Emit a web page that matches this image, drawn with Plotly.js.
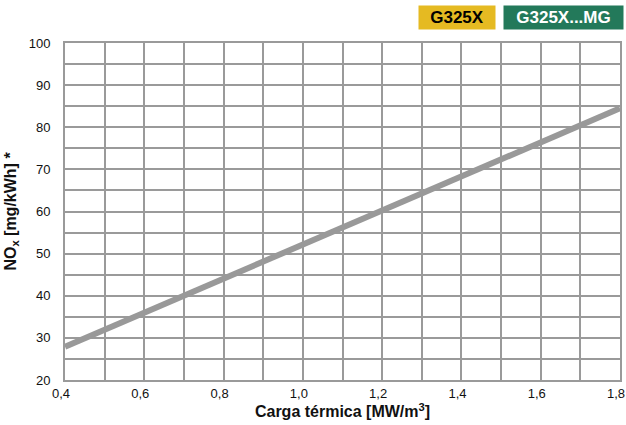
<!DOCTYPE html>
<html><head><meta charset="utf-8">
<script src="https://cdn.plot.ly/plotly-3.0.1.min.js"></script>
<style>body{margin:0;background:#fff}#c{width:626px;height:425px}</style>
</head><body><div id="c"></div>
<script>
const loadX = [0.4, 1.8];
const noxY = [27.9, 84.5];
const xTicks = [0.4, 0.6, 0.8, 1.0, 1.2, 1.4, 1.6, 1.8];
const xTickText = ['0,4','0,6','0,8','1,0','1,2','1,4','1,6','1,8'];
const yTicks = [20, 30, 40, 50, 60, 70, 80, 90, 100];
const legendLabels = ['G325X', 'G325X...MG'];

const FONT = '"Liberation Sans Narrow", "Liberation Sans", Arial, sans-serif';
const data = [{
  x: loadX, y: noxY, mode: 'lines', type: 'scatter',
  line: {color: '#999999', width: 6}, hoverinfo: 'skip'
}];
const layout = {
  width: 626, height: 425,
  margin: {l: 65, r: 6, t: 43, b: 45},
  paper_bgcolor: '#fff', plot_bgcolor: '#fff',
  showlegend: false,
  font: {family: FONT, size: 13, color: '#111'},
  xaxis: {
    range: [0.4, 1.8], tickvals: xTicks, ticktext: xTickText,
    showgrid: true, gridcolor: '#9a9a9a', gridwidth: 2,
    minor: {dtick: 0.1, showgrid: true, gridcolor: '#9a9a9a', gridwidth: 2},
    showline: true, linecolor: '#9a9a9a', linewidth: 2, mirror: true,
    zeroline: false, ticks: '', ticklen: 0, ticklabeloverflow: 'allow', ticklabelshift: -4,
    tickfont: {family: FONT, size: 13, color: '#111'},
    title: {text: '<b>Carga térmica [MW/m<sup>3</sup>]</b>', font: {family: FONT, size: 16, color: '#111'}, standoff: 6}
  },
  yaxis: {
    range: [20, 100], tickvals: yTicks,
    showgrid: true, gridcolor: '#9a9a9a', gridwidth: 2,
    minor: {dtick: 5, showgrid: true, gridcolor: '#9a9a9a', gridwidth: 2},
    showline: true, linecolor: '#9a9a9a', linewidth: 2, mirror: true,
    zeroline: false, ticks: '', ticklen: 0, ticklabelstandoff: 10,
    tickfont: {family: FONT, size: 13, color: '#111'},
    title: {text: '<b>NO<sub>x</sub> [mg/kWh] *</b>', font: {family: FONT, size: 16, color: '#111'}, standoff: 8}
  },
  annotations: [
    {xref: 'paper', yref: 'paper', x: (457-65)/555, y: (380-17)/337, xanchor: 'center', yanchor: 'middle',
     text: '<b>' + legendLabels[0] + '</b>', showarrow: false, bgcolor: '#E5BA22',
     font: {family: 'Liberation Sans, Arial, sans-serif', size: 17, color: '#000'},
     width: 76, height: 23, borderpad: 0},
    {xref: 'paper', yref: 'paper', x: (563-65)/555, y: (380-17)/337, xanchor: 'center', yanchor: 'middle',
     text: '<b>' + legendLabels[1] + '</b>', showarrow: false, bgcolor: '#23795A',
     font: {family: 'Liberation Sans, Arial, sans-serif', size: 17, color: '#fff'},
     width: 119, height: 23, borderpad: 0}
  ]
};
Plotly.newPlot('c', data, layout, {staticPlot: true, displayModeBar: false});
</script></body></html>
